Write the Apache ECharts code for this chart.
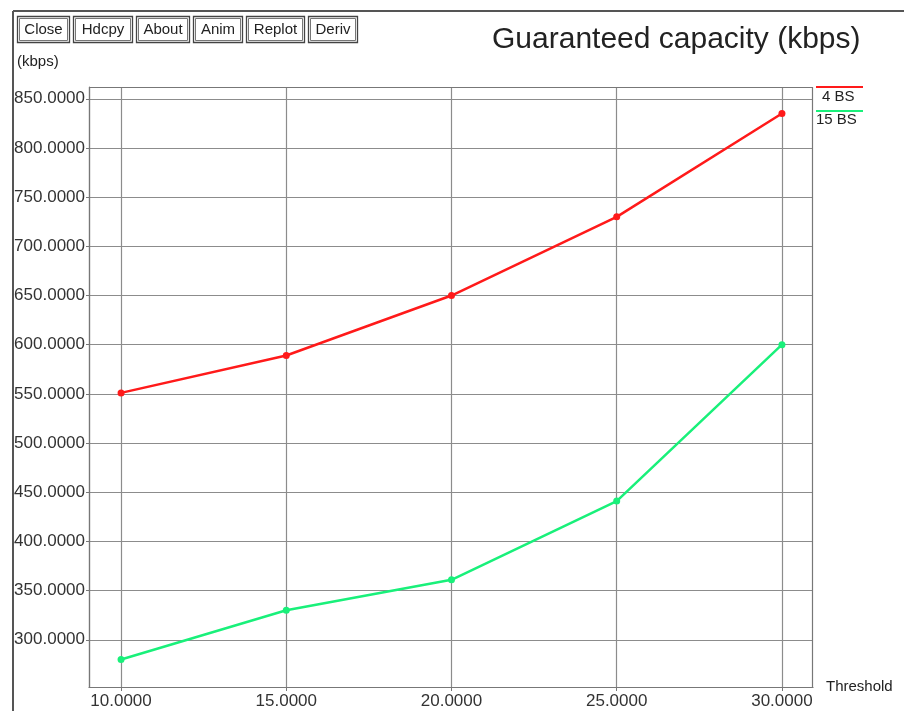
<!DOCTYPE html>
<html>
<head>
<meta charset="utf-8">
<script src="https://cdn.jsdelivr.net/npm/echarts@6/dist/echarts.min.js"></script>
<style>
  html, body { margin: 0; padding: 0; background: #ffffff; }
  #chart { width: 904px; height: 711px; }
</style>
</head>
<body>
<div id="chart"></div>
<script>
// Threshold values on the x axis
const thresholds = [10, 15, 20, 25, 30];
// Guaranteed capacity (kbps) for each base-station count
const capacity4BS = [551, 589, 650, 730, 835];
const capacity15BS = [280, 330, 361, 441, 600];
// Tick positions
const xTicks = [10, 15, 20, 25, 30];
const yTicks = [300, 350, 400, 450, 500, 550, 600, 650, 700, 750, 800, 850];
const buttonLabels = ['Close', 'Hdcpy', 'About', 'Anim', 'Replot', 'Deriv'];
const seriesNames = ['4 BS', '15 BS'];

const FONT = '"Liberation Sans", Arial, Helvetica, sans-serif';
const RED = '#ff1a1a';
const GREEN = '#19f07a';

const chart = echarts.init(document.getElementById('chart'), null, { renderer: 'canvas' });

function pairs(xs, ys) { return xs.map((x, i) => [x, ys[i]]); }

// Toolbar buttons (double outlined boxes)
const buttonBoxes = [[17, 52], [73, 59], [136, 53], [193, 49], [246, 58], [308, 49]];
const graphics = [];
buttonLabels.forEach((label, i) => {
  const [bx, bw] = buttonBoxes[i];
  graphics.push({ type: 'rect', shape: { x: bx + 0.5, y: 16.5, width: bw, height: 26 },
    style: { fill: '#fff', stroke: '#444', lineWidth: 1.3 }, silent: true });
  graphics.push({ type: 'rect', shape: { x: bx + 2.5, y: 18.5, width: bw - 4, height: 22 },
    style: { fill: 'none', stroke: '#777', lineWidth: 1 }, silent: true });
  graphics.push({ type: 'text', x: bx + bw / 2 + 0.5, y: 30,
    style: { text: label, font: '15px ' + FONT, fill: '#222', align: 'center', verticalAlign: 'middle' }, silent: true });
});

// Window frame
graphics.push({ type: 'line', shape: { x1: 13, y1: 11, x2: 904, y2: 11 }, style: { stroke: '#555', lineWidth: 2 }, silent: true });
graphics.push({ type: 'line', shape: { x1: 13, y1: 11, x2: 13, y2: 711 }, style: { stroke: '#555', lineWidth: 2 }, silent: true });

// Unit caption above the value axis
graphics.push({ type: 'text', x: 17, y: 62,
  style: { text: '(kbps)', font: '15px ' + FONT, fill: '#222', verticalAlign: 'middle' }, silent: true });

// Legend at the right of the plot
graphics.push({ type: 'line', shape: { x1: 816, y1: 87, x2: 863, y2: 87 }, style: { stroke: RED, lineWidth: 2 }, silent: true });
graphics.push({ type: 'text', x: 822, y: 97,
  style: { text: seriesNames[0], font: '15px ' + FONT, fill: '#222', verticalAlign: 'middle' }, silent: true });
graphics.push({ type: 'line', shape: { x1: 816, y1: 111, x2: 863, y2: 111 }, style: { stroke: GREEN, lineWidth: 2 }, silent: true });
graphics.push({ type: 'text', x: 816, y: 120,
  style: { text: seriesNames[1], font: '15px ' + FONT, fill: '#222', verticalAlign: 'middle' }, silent: true });

// Plot frame (top and right edges)
graphics.push({ type: 'rect', shape: { x: 89.5, y: 87.5, width: 723, height: 600 },
  style: { fill: 'none', stroke: '#777', lineWidth: 1.2 }, silent: true, z: 5 });

const option = {
  backgroundColor: '#ffffff',
  animation: false,
  title: {
    text: 'Guaranteed capacity (kbps)',
    left: 487, top: 20,
    textStyle: { fontFamily: FONT, fontSize: 30, fontWeight: 'normal', color: '#222' }
  },
  grid: { left: 89, top: 87, right: 91, bottom: 24, containLabel: false, outerBoundsMode: 'none' },
  xAxis: {
    type: 'value', min: 9.03, max: 30.94,
    name: 'Threshold', nameLocation: 'end', nameGap: 13,
    nameTextStyle: { fontFamily: FONT, fontSize: 15, color: '#222', verticalAlign: 'middle', align: 'left' },
    axisLine: { show: true, lineStyle: { color: '#777', width: 1.2 } },
    axisTick: { show: true, customValues: xTicks, length: 4, inside: false, lineStyle: { color: '#777' } },
    axisLabel: { customValues: xTicks, margin: 6, fontFamily: FONT, fontSize: 17, color: '#333',
      formatter: v => v.toFixed(4) },
    splitLine: { show: true, customValues: xTicks, lineStyle: { color: '#8c8c8c', width: 1.2 } }
  },
  yAxis: {
    type: 'value', min: 252, max: 862,
    axisLine: { show: true, lineStyle: { color: '#777', width: 1.2 } },
    axisTick: { show: true, customValues: yTicks, length: 3, lineStyle: { color: '#777' } },
    axisLabel: { customValues: yTicks, margin: 4, fontFamily: FONT, fontSize: 17, color: '#333',
      formatter: v => v.toFixed(4) },
    splitLine: { show: true, customValues: yTicks, lineStyle: { color: '#8c8c8c', width: 1.2 } }
  },
  series: [
    {
      name: seriesNames[0], type: 'line', data: pairs(thresholds, capacity4BS),
      symbol: 'circle', symbolSize: 7, lineStyle: { color: RED, width: 2.5 },
      itemStyle: { color: RED }, z: 10
    },
    {
      name: seriesNames[1], type: 'line', data: pairs(thresholds, capacity15BS),
      symbol: 'circle', symbolSize: 7, lineStyle: { color: GREEN, width: 2.5 },
      itemStyle: { color: GREEN }, z: 10
    }
  ],
  graphic: graphics
};

chart.setOption(option);
</script>
</body>
</html>
